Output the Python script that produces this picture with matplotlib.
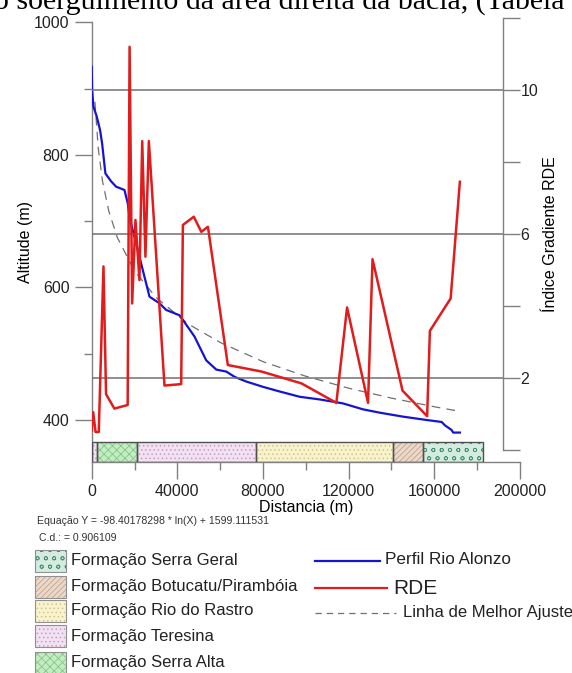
import matplotlib
matplotlib.use("Agg")
import matplotlib.pyplot as plt
from matplotlib.patches import Rectangle

plt.rcParams['font.family'] = ['Liberation Sans', 'DejaVu Sans']
plt.rcParams['hatch.linewidth'] = 0.5

# Perfil Rio Alonzo (distancia m, altitude m)
perfil_dist = [0, 200, 800, 2340, 3930, 4870, 6400, 9080, 11400, 15300, 16840,
               17700, 20000, 23100, 27000, 31700, 34800, 41000, 42600, 48000,
               53500, 58200, 62900, 66800, 72200, 80000, 87800, 97200, 106500,
               117400, 126800, 134600, 145500, 156400, 163500, 165000, 168100,
               168900, 172000]
perfil_alt = [933, 898, 873, 858, 837, 817, 772, 760, 752, 747, 727,
              705, 676, 636, 586, 576, 566, 558, 551, 526,
              490, 476, 473, 465, 458, 450, 443, 435, 431,
              425, 416, 411, 405, 400, 397, 392, 385,
              381, 381]

# RDE (distancia m, indice)
rde_dist = [0, 700, 1800, 3300, 5500, 6700, 10600, 16800, 17700, 18900,
            20440, 22300, 23600, 25100, 26700, 34000, 41800, 42600, 47700,
            51200, 54300, 63600, 79300, 98000, 114300, 119300, 129100,
            131200, 145200, 156700, 158000, 167700, 172000]
rde_val = [0.55, 1.05, 0.5, 0.5, 5.1, 1.55, 1.15, 1.25, 11.2, 4.07,
           6.39, 4.72, 8.58, 5.37, 8.58, 1.79, 1.83, 6.25, 6.48,
           6.06, 6.2, 2.36, 2.18, 1.85, 1.31, 3.96, 1.31,
           5.3, 1.65, 0.94, 3.31, 4.21, 7.45]

# Linha de melhor ajuste
ajuste_dist = [1500, 3000, 5000, 8000, 12000, 20000, 30000, 45000, 60000,
               80000, 100000, 120000, 140000, 160000, 172000]
ajuste_alt = [880, 812, 761, 715, 675, 625, 585, 545, 517,
              488, 466, 448, 433, 420, 413]

# Formacoes ao longo do perfil
form_nome = ["Teresina", "Serra Alta", "Teresina", "Rio do Rastro",
             "Botucatu/Pirambóia", "Serra Geral"]
form_ini = [0, 2340, 21050, 76600, 140800, 155000]
form_fim = [2340, 21050, 76600, 140800, 155000, 182600]

x_ticks = [0, 40000, 80000, 120000, 160000, 200000]
x_labels = ["0", "40000", "80000", "120000", "160000", "200000"]
y_ticks = [400, 600, 800, 1000]
rde_ticks = [2, 6, 10]

estilo = {
    "Teresina": dict(fc="#f3e0f3", hc="#b89ab8", hatch="...."),
    "Serra Alta": dict(fc="#c2ecc2", hc="#7fbf7f", hatch="xxxx"),
    "Rio do Rastro": dict(fc="#f8f3cc", hc="#c9c08a", hatch="...."),
    "Botucatu/Pirambóia": dict(fc="#ecd8c8", hc="#b89a86", hatch="//////"),
    "Serra Geral": dict(fc="#d4ece0", hc="#3f8f70", hatch="oo"),
}

W, H = 572, 673
fig = plt.figure(figsize=(W / 100, H / 100), dpi=100)

# layout in pixels
x0, x1 = 91.7, 519.8
ytop, ybot = 22.3, 462.0
rx = 503.3
r_top, r_bot = 18.0, 450.0
gray = "#808080"

ax = fig.add_axes([x0 / W, 1 - ybot / H, (x1 - x0) / W, (ybot - ytop) / H])
ax.set_xlim(0, 200000)
ax.set_ylim(336.6, 1000)
for s in ["top", "right"]:
    ax.spines[s].set_visible(False)
for s in ["left", "bottom"]:
    ax.spines[s].set_color(gray)
    ax.spines[s].set_linewidth(1.0)
ax.set_xticks(x_ticks)
ax.set_xticklabels(x_labels)
ax.set_xticks(range(20000, 200000, 40000), minor=True)
ax.set_yticks(y_ticks)
ax.set_yticks([500, 700, 900], minor=True)
ax.tick_params(which="major", length=12, width=1, color=gray, labelsize=11.5,
               labelcolor="#222222")
ax.tick_params(which="minor", length=6, width=1, color=gray)
ax.tick_params(axis="x", pad=4)
ax.tick_params(axis="y", pad=4)
ax.set_xlabel("Distancia (m)", fontsize=11.5, labelpad=0.5)
ax.set_ylabel("Altitude (m)", fontsize=11.5, labelpad=1)

# barra das formacoes
bar_top = 367.2
y_lo = ax.get_ylim()[0]
for nome, a, b in zip(form_nome, form_ini, form_fim):
    st = estilo[nome]
    ax.bar(a, bar_top - y_lo, width=b - a, bottom=y_lo, align="edge",
           color=st["fc"], edgecolor=st["hc"], hatch=st["hatch"], linewidth=0,
           zorder=2)
    ax.bar(a, bar_top - y_lo, width=b - a, bottom=y_lo, align="edge",
           fill=False, edgecolor="#505050", linewidth=1.0, zorder=3)

ax.plot(ajuste_dist, ajuste_alt, color="#707070", lw=0.9, dashes=(7, 5), zorder=4)
ax.plot(perfil_dist, perfil_alt, color="#1414d2", lw=1.6, zorder=5)

# eixo RDE
ax2 = fig.add_axes([x0 / W, 1 - r_bot / H, (rx - x0) / W, (r_bot - r_top) / H])
ax2.patch.set_visible(False)
ax2.set_xlim(0, 200000 * (rx - x0) / (x1 - x0))
ax2.set_ylim(0, 12)
for s in ["top", "left", "bottom"]:
    ax2.spines[s].set_visible(False)
ax2.spines["right"].set_color(gray)
ax2.spines["right"].set_linewidth(1.0)
ax2.set_xticks([])
ax2.yaxis.tick_right()
ax2.yaxis.set_label_position("right")
ax2.set_yticks(rde_ticks)
ax2.set_yticks([0, 4, 8, 12], minor=True)
ax2.tick_params(which="both", length=12, width=1, color=gray, labelsize=11.5,
                pad=0.5, labelcolor="#222222")
ax2.set_axisbelow(True)
ax2.yaxis.grid(True, which="major", color="#707070", lw=1.1)
ax2.set_ylabel("Índice Gradiente RDE", fontsize=11.5, labelpad=3)
ax2.plot(rde_dist, rde_val, color="#e01c1c", lw=1.8, zorder=5)

# legenda
lg = fig.add_axes([0, 0, 1, 1])
lg.set_xlim(0, W)
lg.set_ylim(H, 0)
lg.axis("off")

lg.text(37, 521, "Equação Y = -98.40178298 * ln(X) + 1599.111531", fontsize=7.6,
        va="center", color="#333333")
lg.text(39, 538, "C.d.: = 0.906109", fontsize=7.6, va="center", color="#333333")

leg_nomes = ["Serra Geral", "Botucatu/Pirambóia", "Rio do Rastro", "Teresina",
             "Serra Alta"]
leg_y = [561, 587, 611, 636, 663]
for nome, yc in zip(leg_nomes, leg_y):
    st = estilo[nome]
    lg.add_patch(Rectangle((35, yc - 11), 31, 22, facecolor=st["fc"],
                           edgecolor=st["hc"], hatch=st["hatch"], linewidth=0))
    lg.add_patch(Rectangle((35, yc - 11), 31, 22, fill=False,
                           edgecolor="#909090", linewidth=0.8))
    lg.text(71, yc, "Formação " + nome, fontsize=12, va="center", color="#222222")

lg.plot([315, 380], [561, 561], color="#1414d2", lw=1.6)
lg.text(385, 559, "Perfil Rio Alonzo", fontsize=12.3, va="center", color="#222222")
lg.plot([315, 387], [588, 588], color="#e01c1c", lw=1.6)
lg.text(393, 588, "RDE", fontsize=15, va="center", color="#222222")
lg.plot([315, 396], [613, 613], color="#707070", lw=0.9, dashes=(5, 4))
lg.text(403, 613, "Linha de Melhor Ajuste", fontsize=12, va="center",
        color="#222222")

# legenda do documento (cortada no topo)
fig.text(-6 / W, 1 - 9 / H, "o soerguimento da área direita da bacia, (Tabela",
         fontsize=21.5, family=["Liberation Serif", "DejaVu Serif"],
         va="baseline", ha="left")

fig.savefig("out.png", dpi=100)
